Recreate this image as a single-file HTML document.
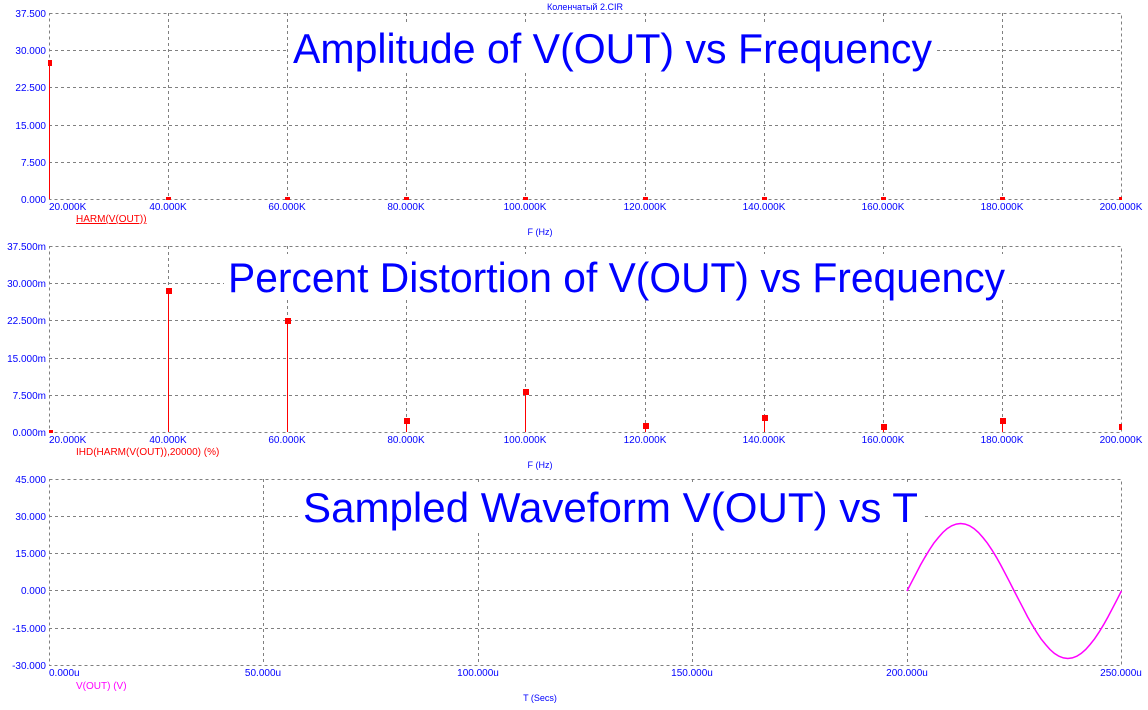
<!DOCTYPE html>
<html><head><meta charset="utf-8"><style>
html,body{margin:0;padding:0;background:#fff;}
svg{display:block;font-family:"Liberation Sans","Noto Sans CJK SC",sans-serif;}
.g{stroke:#808080;stroke-width:1;stroke-dasharray:3,3;fill:none;}
.t{fill:#0000ff;font-size:10px;}
.big{fill:#0000ff;font-size:42px;}
</style></head><body>
<svg width="1148" height="710" viewBox="0 0 1148 710" xmlns="http://www.w3.org/2000/svg">
<text x="585" y="10" text-anchor="middle" class="t" style="font-size:9px">Коленчатый 2.CIR</text>

<!-- Plot 1 -->
<g>
<rect x="49.5" y="13.5" width="1072" height="186" class="g"/>
<path class="g" d="M168.5 13V199M287.5 13V199M406.5 13V199M525.5 13V199M645.5 13V199M764.5 13V199M883.5 13V199M1002.5 13V199M49 50.5H1121M49 87.5H1121M49 125.5H1121M49 162.5H1121"/>
<g class="t" text-anchor="end">
<text x="46" y="17">37.500</text><text x="46" y="54">30.000</text><text x="46" y="91">22.500</text><text x="46" y="129">15.000</text><text x="46" y="166">7.500</text><text x="46" y="203">0.000</text>
</g>
<g class="t" text-anchor="middle">
<text x="49" y="210" text-anchor="start">20.000K</text><text x="168" y="210">40.000K</text><text x="287" y="210">60.000K</text><text x="406" y="210">80.000K</text><text x="525" y="210">100.000K</text><text x="645" y="210">120.000K</text><text x="764" y="210">140.000K</text><text x="883" y="210">160.000K</text><text x="1002" y="210">180.000K</text><text x="1121" y="210">200.000K</text>
</g>
<text x="76" y="222" fill="#ff0000" font-size="10" text-decoration="underline">HARM(V(OUT))</text>
<text x="540" y="235" class="t" text-anchor="middle" style="font-size:9px">F (Hz)</text>
<line x1="49.5" y1="64" x2="49.5" y2="199" stroke="#f00"/>
<rect x="48" y="60" width="4" height="6" fill="#f00"/>
<g fill="#f00"><rect x="166" y="197" width="5" height="3"/><rect x="285" y="197" width="5" height="3"/><rect x="404" y="197" width="5" height="3"/><rect x="523" y="197" width="5" height="3"/><rect x="643" y="197" width="5" height="3"/><rect x="762" y="197" width="5" height="3"/><rect x="881" y="197" width="5" height="3"/><rect x="1000" y="197" width="5" height="3"/><rect x="1119" y="197" width="3" height="3"/></g>
<rect x="289" y="24" width="648" height="46" fill="#fff"/>
<text x="293" y="63" class="big" textLength="639" lengthAdjust="spacingAndGlyphs">Amplitude of V(OUT) vs Frequency</text>
</g>

<!-- Plot 2 -->
<g>
<rect x="49.5" y="246.5" width="1072" height="186" class="g"/>
<path class="g" d="M168.5 246V432M287.5 246V432M406.5 246V432M525.5 246V432M645.5 246V432M764.5 246V432M883.5 246V432M1002.5 246V432M49 283.5H1121M49 320.5H1121M49 358.5H1121M49 395.5H1121"/>
<g class="t" text-anchor="end">
<text x="46" y="250">37.500m</text><text x="46" y="287">30.000m</text><text x="46" y="324">22.500m</text><text x="46" y="362">15.000m</text><text x="46" y="399">7.500m</text><text x="46" y="436">0.000m</text>
</g>
<g class="t" text-anchor="middle">
<text x="49" y="443" text-anchor="start">20.000K</text><text x="168" y="443">40.000K</text><text x="287" y="443">60.000K</text><text x="406" y="443">80.000K</text><text x="525" y="443">100.000K</text><text x="645" y="443">120.000K</text><text x="764" y="443">140.000K</text><text x="883" y="443">160.000K</text><text x="1002" y="443">180.000K</text><text x="1121" y="443">200.000K</text>
</g>
<text x="76" y="455" fill="#ff0000" font-size="10">IHD(HARM(V(OUT)),20000) (%)</text>
<text x="540" y="468" class="t" text-anchor="middle" style="font-size:9px">F (Hz)</text>
<g stroke="#f00" stroke-width="1">
<line x1="168.5" y1="291" x2="168.5" y2="432"/><line x1="287.5" y1="321" x2="287.5" y2="432"/><line x1="406.5" y1="421" x2="406.5" y2="432"/><line x1="525.5" y1="392" x2="525.5" y2="432"/><line x1="645.5" y1="426" x2="645.5" y2="432"/><line x1="764.5" y1="418" x2="764.5" y2="432"/><line x1="883.5" y1="427" x2="883.5" y2="432"/><line x1="1002.5" y1="421" x2="1002.5" y2="432"/>
</g>
<g fill="#f00">
<rect x="49" y="430" width="4" height="3"/>
<rect x="166" y="288" width="6" height="6"/><rect x="285" y="318" width="6" height="6"/><rect x="404" y="418" width="6" height="6"/><rect x="523" y="389" width="6" height="6"/><rect x="643" y="423" width="6" height="6"/><rect x="762" y="415" width="6" height="6"/><rect x="881" y="424" width="6" height="6"/><rect x="1000" y="418" width="6" height="6"/><rect x="1119" y="424" width="3" height="6"/>
</g>
<rect x="224" y="254" width="785" height="46" fill="#fff"/>
<text x="228" y="292" class="big" textLength="777" lengthAdjust="spacingAndGlyphs">Percent Distortion of V(OUT) vs Frequency</text>
</g>

<!-- Plot 3 -->
<g>
<rect x="49.5" y="479.5" width="1072" height="186" class="g"/>
<path class="g" d="M263.5 479V665M478.5 479V665M692.5 479V665M907.5 479V665M49 516.5H1121M49 553.5H1121M49 590.5H1121M49 628.5H1121"/>
<g class="t" text-anchor="end">
<text x="46" y="483">45.000</text><text x="46" y="520">30.000</text><text x="46" y="557">15.000</text><text x="46" y="594">0.000</text><text x="46" y="632">-15.000</text><text x="46" y="669">-30.000</text>
</g>
<g class="t" text-anchor="middle">
<text x="49" y="676" text-anchor="start">0.000u</text><text x="263" y="676">50.000u</text><text x="478" y="676">100.000u</text><text x="692" y="676">150.000u</text><text x="907" y="676">200.000u</text><text x="1121" y="676">250.000u</text>
</g>
<text x="76" y="689" fill="#ff00ff" font-size="10">V(OUT) (V)</text>
<text x="540" y="701" class="t" text-anchor="middle" style="font-size:9px">T (Secs)</text>
<rect x="299" y="484" width="624" height="46" fill="#fff"/>
<text x="303" y="522" class="big" textLength="615" lengthAdjust="spacingAndGlyphs">Sampled Waveform  V(OUT) vs T</text>
<polyline fill="none" stroke="#ff00ff" stroke-width="1.5" points="907.0,591.0 911.5,582.3 916.0,573.7 920.4,565.1 924.9,557.3 929.4,549.9 933.8,543.2 938.3,537.6 942.8,532.5 947.2,528.6 951.7,525.8 956.2,524.1 960.6,523.5 965.1,524.1 969.6,525.8 974.0,528.6 978.5,532.5 983.0,537.6 987.4,543.2 991.9,549.9 996.4,557.3 1000.8,565.1 1005.3,573.7 1009.8,582.3 1014.2,591.0 1018.7,599.7 1023.2,608.3 1027.6,616.9 1032.1,624.7 1036.6,632.1 1041.0,638.8 1045.5,644.4 1050.0,649.5 1054.4,653.4 1058.9,656.2 1063.4,657.9 1067.8,658.5 1072.3,657.9 1076.8,656.2 1081.2,653.4 1085.7,649.5 1090.2,644.4 1094.6,638.8 1099.1,632.1 1103.6,624.7 1108.0,616.9 1112.5,608.3 1117.0,599.7 1121.4,591.0"/>
</g>
</svg>
</body></html>
